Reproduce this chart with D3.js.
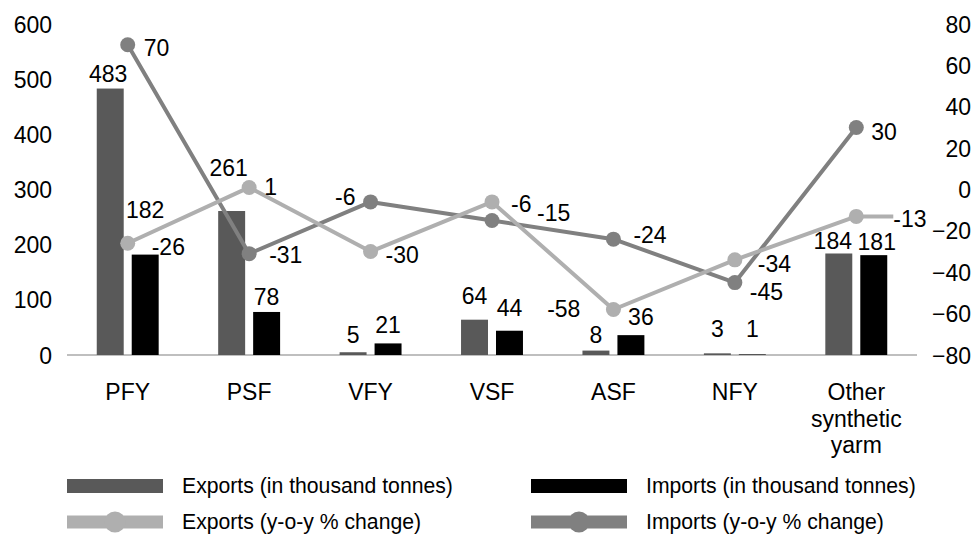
<!DOCTYPE html>
<html>
<head>
<meta charset="utf-8">
<script src="https://cdn.jsdelivr.net/npm/d3@7"></script>
<style>
    html, body { margin: 0; padding: 0; background: #ffffff; }
    text { font-family: "Liberation Sans", Arial, sans-serif; fill: #000000; }
</style>
</head>
<body>
<div id="chart"></div>
<script>

// data
const categories = ['PFY', 'PSF', 'VFY', 'VSF', 'ASF', 'NFY', 'Other synthetic yarm'];
const exportsVolume = [483, 261, 5, 64, 8, 3, 184];
const importsVolume = [182, 78, 21, 44, 36, 1, 181];
const exportsChange = [-26, 1, -30, -6, -58, -34, -13];
const importsChange = [70, -31, -6, -15, -24, -45, 30];
const leftTicks = [0, 100, 200, 300, 400, 500, 600];
const rightTicks = [-80, -60, -40, -20, 0, 20, 40, 60, 80];
const legendNames = ['Exports (in thousand tonnes)', 'Imports (in thousand tonnes)',
                     'Exports (y-o-y % change)', 'Imports (y-o-y % change)'];

// label nudges (as placed by hand in the original)
const exportsBarNudge = [[-2, -7], [-3, -35], [0, -9], [0, -16], [0, -8], [0, -16], [-6, -4]];
const importsBarNudge = [[0, -37], [0, -7], [0, -10], [0, -15], [10, -10], [0, -17], [3, -5]];
const exportsLineNudge = [[24, 4], [15, 0], [15, 3], [19, 2], [-33, -1], [23, 4], [37, 3]];
const importsLineNudge = [[16, 3], [20, 1], [-15, -5], [45, -8], [20, -4], [15, 9], [15, 5]];

const width = 975, height = 534;
const colors = { exportsBar: '#595959', importsBar: '#000000', exportsLine: '#afafaf', importsLine: '#808080', axis: '#bfbfbf' };

function createSVG(containerId, w, h) {
    try {
        return d3.select(containerId)
            .append('svg')
            .attr('width', w)
            .attr('height', h)
            .attr('viewBox', '0 0 ' + w + ' ' + h);
    } catch (error) {
        console.log('createSVG. Error: ' + error);
        return null;
    }
}

const svg = createSVG('#chart', width, height);

const x0 = d3.scaleBand().domain(categories).range([67, 917]).paddingInner(0.49).paddingOuter(0.245);
const x1 = d3.scaleBand().domain(['exports', 'imports']).range([0, x0.bandwidth()]).paddingInner(0.229);
const yLeft = d3.scaleLinear().domain([0, 600]).range([355, 24]);
const yRight = d3.scaleLinear().domain([-80, 80]).range([355, 24]);
const cx = d => x0(d) + x0.bandwidth() / 2;

function drawAxes() {
    try {
        let left = svg.append('g')
            .attr('transform', 'translate(52,0)')
            .call(d3.axisLeft(yLeft).tickValues(leftTicks).tickSize(0).tickPadding(0));
        let right = svg.append('g')
            .attr('transform', 'translate(971,0)')
            .call(d3.axisRight(yRight).tickValues(rightTicks).tickSize(0).tickPadding(0));
        [left, right].forEach(g => {
            g.select('.domain').remove();
            g.selectAll('text')
                .attr('font-size', 23)
                .attr('font-family', '"Liberation Sans", Arial, sans-serif')
                .attr('dy', '0.35em')
                .attr('x', 0)
                .attr('text-anchor', 'end');
        });

        svg.append('line')
            .attr('x1', x0.range()[0]).attr('x2', x0.range()[1])
            .attr('y1', yLeft(0)).attr('y2', yLeft(0))
            .attr('stroke', colors.axis).attr('stroke-width', 2);

        let cats = svg.append('g').selectAll('text')
            .data(categories).enter()
            .append('text')
            .attr('text-anchor', 'middle')
            .attr('font-size', 23)
            .attr('x', d => cx(d))
            .attr('y', 392);
        cats.selectAll('tspan')
            .data(d => d.split(' ').length > 1 ? d.split(' ') : [d]).enter()
            .append('tspan')
            .attr('x', function () { return d3.select(this.parentNode).attr('x'); })
            .attr('dy', (d, i) => i === 0 ? '0.35em' : '26.5')
            .text(d => d);
    } catch (error) {
        console.log('drawAxes. Error: ' + error);
    }
}

function drawBars(values, key, color, nudge) {
    try {
        let g = svg.append('g');
        g.selectAll('rect')
            .data(values).enter()
            .append('rect')
            .attr('x', (d, i) => x0(categories[i]) + x1(key))
            .attr('y', d => yLeft(d))
            .attr('width', x1.bandwidth())
            .attr('height', d => yLeft(0) - yLeft(d))
            .attr('fill', color);
        g.selectAll('text')
            .data(values).enter()
            .append('text')
            .attr('text-anchor', 'middle')
            .attr('font-size', 23)
            .attr('x', (d, i) => x0(categories[i]) + x1(key) + x1.bandwidth() / 2 + nudge[i][0])
            .attr('y', (d, i) => yLeft(d) + nudge[i][1])
            .text(d => d);
    } catch (error) {
        console.log('drawBars. Error: ' + error);
    }
}

function drawLine(values, color, nudge, leaderIndex) {
    try {
        let g = svg.append('g');
        let line = d3.line()
            .x((d, i) => cx(categories[i]))
            .y(d => yRight(d));
        g.append('path')
            .datum(values)
            .attr('d', line)
            .attr('fill', 'none')
            .attr('stroke', color)
            .attr('stroke-width', 4)
            .attr('stroke-linejoin', 'round');
        if (leaderIndex !== undefined) {
            let v = values[leaderIndex];
            g.append('line')
                .attr('x1', cx(categories[leaderIndex]))
                .attr('x2', cx(categories[leaderIndex]) + nudge[leaderIndex][0])
                .attr('y1', yRight(v)).attr('y2', yRight(v))
                .attr('stroke', color).attr('stroke-width', 4);
        }
        g.selectAll('circle')
            .data(values).enter()
            .append('circle')
            .attr('cx', (d, i) => cx(categories[i]))
            .attr('cy', d => yRight(d))
            .attr('r', 7.5)
            .attr('fill', color);
        g.selectAll('text')
            .data(values).enter()
            .append('text')
            .attr('font-size', 23)
            .attr('text-anchor', (d, i) => nudge[i][0] < 0 ? 'end' : 'start')
            .attr('x', (d, i) => cx(categories[i]) + nudge[i][0])
            .attr('y', (d, i) => yRight(d) + nudge[i][1])
            .attr('dy', '0.35em')
            .text(d => d);
    } catch (error) {
        console.log('drawLine. Error: ' + error);
    }
}

function drawLegend() {
    try {
        let items = [
            { name: legendNames[0], type: 'bar', color: colors.exportsBar, x: 67, y: 486 },
            { name: legendNames[1], type: 'bar', color: colors.importsBar, x: 531, y: 486 },
            { name: legendNames[2], type: 'line', color: colors.exportsLine, x: 67, y: 522 },
            { name: legendNames[3], type: 'line', color: colors.importsLine, x: 531, y: 522 }
        ];
        let g = svg.append('g').selectAll('g')
            .data(items).enter()
            .append('g')
            .attr('transform', d => 'translate(' + d.x + ',' + d.y + ')');
        g.filter(d => d.type === 'bar')
            .append('rect')
            .attr('x', 0).attr('y', -7)
            .attr('width', 96).attr('height', 14)
            .attr('fill', d => d.color);
        let lines = g.filter(d => d.type === 'line');
        lines.append('rect')
            .attr('x', 0).attr('y', -6.5)
            .attr('width', 96).attr('height', 13)
            .attr('fill', d => d.color);
        lines.append('circle')
            .attr('cx', 48).attr('cy', 0).attr('r', 10.5)
            .attr('fill', d => d.color);
        g.append('text')
            .attr('x', 115)
            .attr('dy', '0.35em')
            .attr('font-size', 21.2)
            .text(d => d.name);
    } catch (error) {
        console.log('drawLegend. Error: ' + error);
    }
}

drawAxes();
drawBars(exportsVolume, 'exports', colors.exportsBar, exportsBarNudge);
drawBars(importsVolume, 'imports', colors.importsBar, importsBarNudge);
drawLine(importsChange, colors.importsLine, importsLineNudge);
drawLine(exportsChange, colors.exportsLine, exportsLineNudge, 6);
drawLegend();

</script>
</body>
</html>
